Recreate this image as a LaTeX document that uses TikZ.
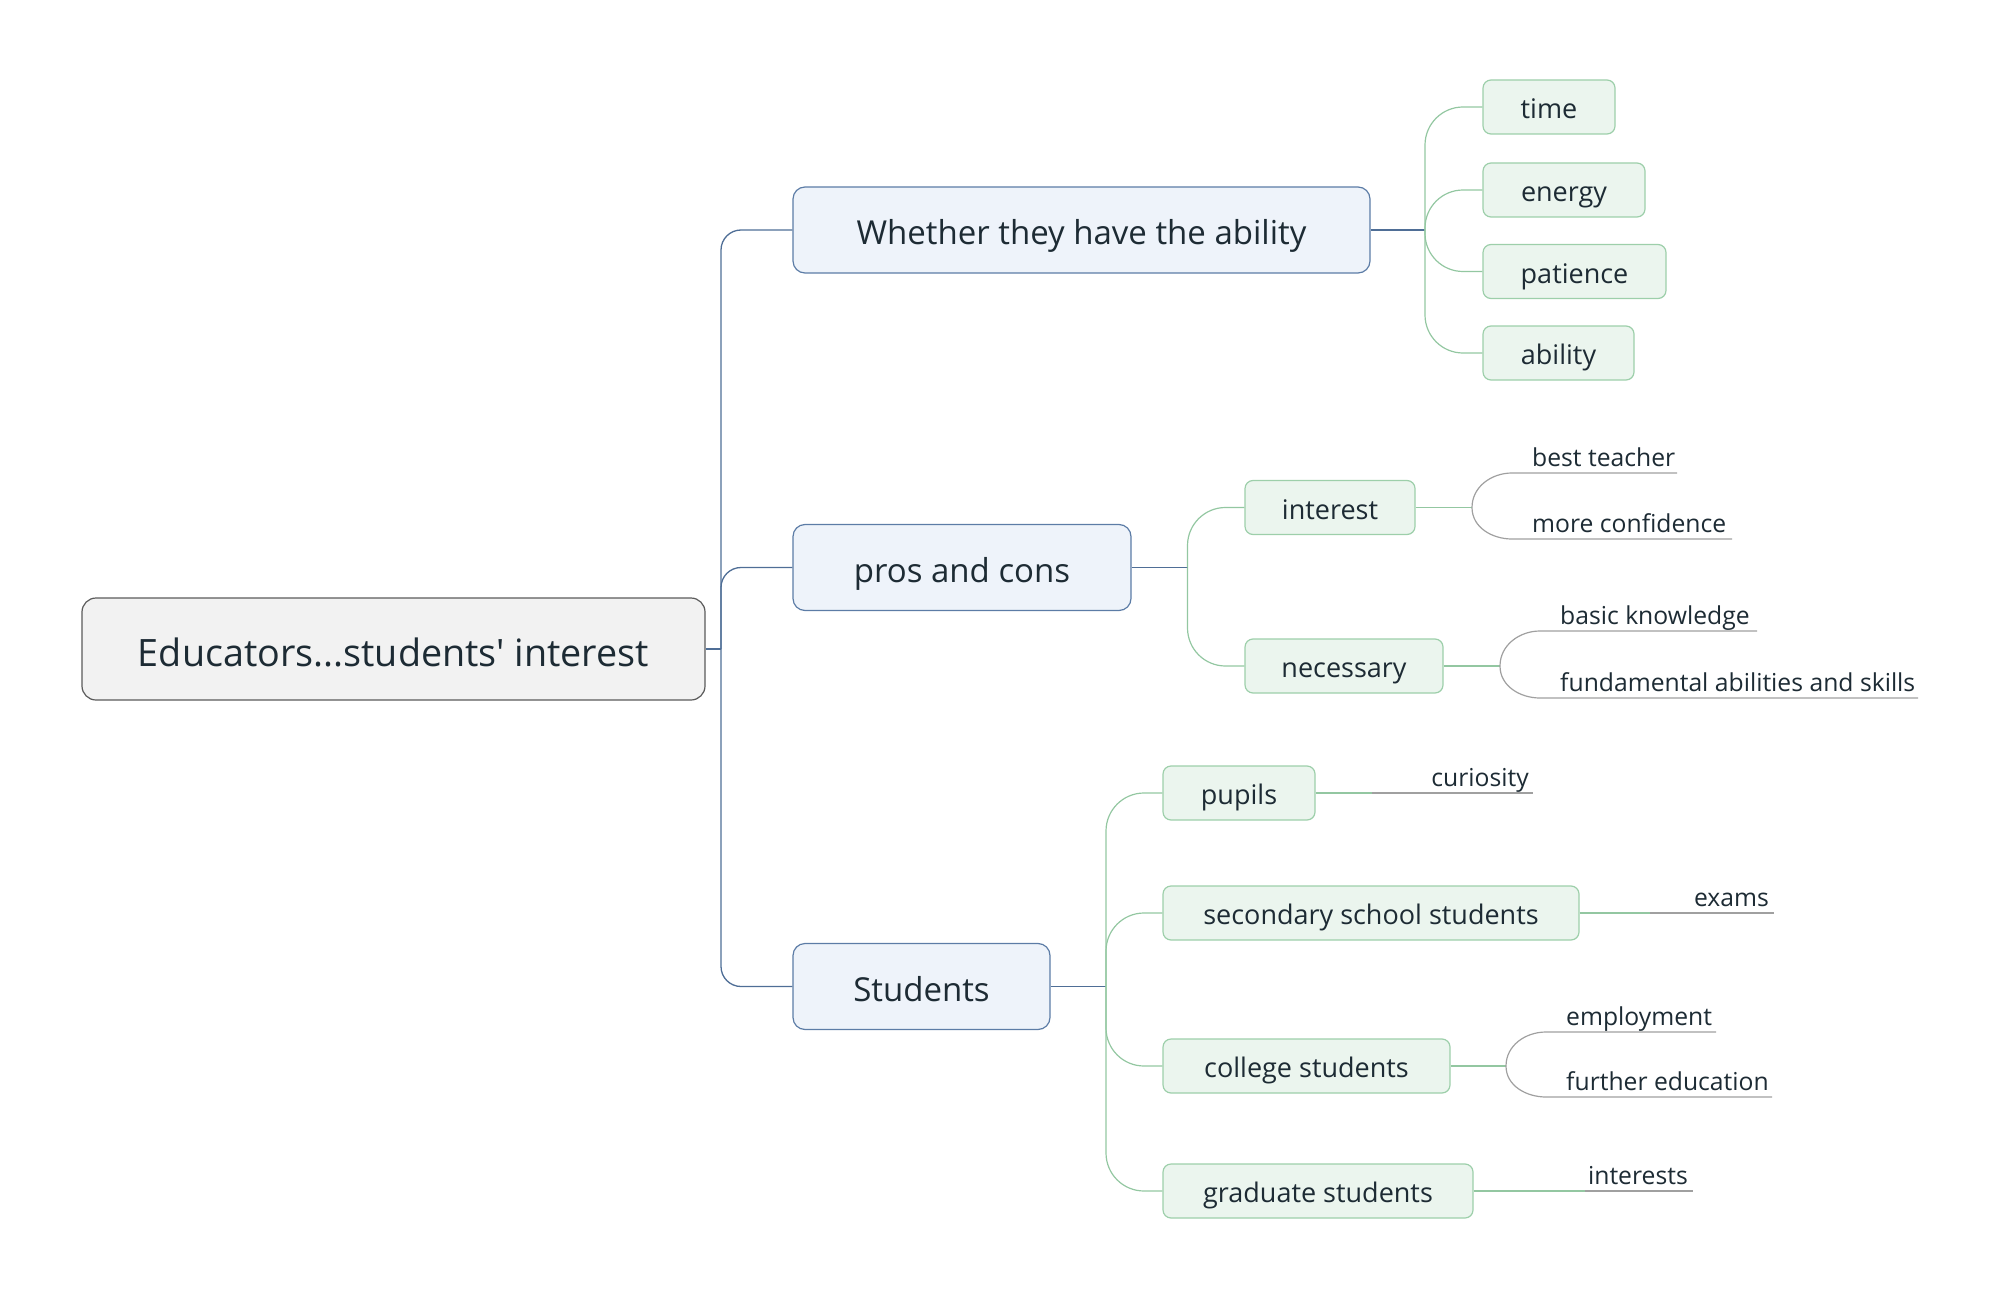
\documentclass[tikz,border=0pt]{standalone}
\usepackage{fontspec}
\setmainfont{Open Sans}
\definecolor{rootfill}{HTML}{F2F2F2}
\definecolor{rootdraw}{HTML}{5A5A5A}
\definecolor{bluefill}{HTML}{EEF3FA}
\definecolor{bluedraw}{HTML}{5C7CA6}
\definecolor{blueline}{HTML}{4F6E96}
\definecolor{greenfill}{HTML}{EBF5EE}
\definecolor{greendraw}{HTML}{9DCFAA}
\definecolor{greenline}{HTML}{93C7A1}
\definecolor{grayline}{HTML}{A0A0A0}
\definecolor{txt}{HTML}{1D2B34}
\begin{document}
\begin{tikzpicture}[x=1pt,y=-1pt,
  rootbox/.style={draw=rootdraw, fill=rootfill, rounded corners=14pt, line width=1.2pt, minimum height=102pt, text=txt, font=\fontsize{37.7}{40}\selectfont, inner sep=0pt, text height=40pt, text depth=4.8pt},
  topic/.style={draw=bluedraw, fill=bluefill, rounded corners=12pt, line width=1.2pt, minimum height=86pt, text=txt, font=\fontsize{33}{36}\selectfont, inner sep=0pt, text height=34pt, text depth=4.4pt},
  sub/.style={draw=greendraw, fill=greenfill, rounded corners=8pt, line width=1.2pt, minimum height=54pt, text=txt, font=\fontsize{27}{30}\selectfont, inner sep=0pt, text height=27pt, text depth=3.6pt},
  leaf/.style={font=\fontsize{24.7}{27}\selectfont, inner sep=0pt, text=txt},
  bl/.style={draw=blueline, line width=1.3pt},
  gl/.style={draw=greenline, line width=1.2pt},
  gy/.style={draw=grayline, line width=1.2pt}]
\useasboundingbox (0,0) rectangle (2000,1300);

% nodes
\node[rootbox, minimum width=623pt] (root) at (393.5,649) {Educators...students\textquotesingle{} interest};
\node[topic, minimum width=577pt] (wh) at (1081.5,230) {Whether they have the ability};
\node[topic, minimum width=338pt] (pc) at (962,567.5) {pros and cons};
\node[topic, minimum width=257pt] (st) at (921.5,986.5) {Students};

\node[sub, minimum width=132pt] (time) at (1549,107) {time};
\node[sub, minimum width=162pt] (energy) at (1564,190) {energy};
\node[sub, minimum width=183pt] (patience) at (1574.5,271.5) {patience};
\node[sub, minimum width=151pt] (ability) at (1558.5,353) {ability};

\node[sub, minimum width=170pt] (interest) at (1330,507.5) {interest};
\node[sub, minimum width=198pt] (necessary) at (1344,666) {necessary};

\node[sub, minimum width=152pt] (pupils) at (1239,793) {pupils};
\node[sub, minimum width=416pt] (secondary) at (1371,913) {secondary school students};
\node[sub, minimum width=287pt] (college) at (1306.5,1066) {college students};
\node[sub, minimum width=310pt] (graduate) at (1318,1191) {graduate students};

% junctions
\coordinate (rj) at (721,649);
\coordinate (wj) at (1425,230);
\coordinate (pj) at (1187.5,567.5);
\coordinate (sj) at (1106,986.5);
\coordinate (ij) at (1472,507.5);
\coordinate (nj) at (1500,666);
\coordinate (cj) at (1506,1066);

% level 1 connectors
\draw[bl] (root.east) -- (rj);
\draw[bl, rounded corners=20pt] (rj) |- (wh.west);
\draw[bl, rounded corners=20pt] (rj) |- (pc.west);
\draw[bl, rounded corners=20pt] (rj) |- (st.west);

% level 2 connectors
\draw[bl] (wh.east) -- (wj);
\draw[gl, rounded corners=38pt] (wj) |- (time.west);
\draw[gl, rounded corners=38pt] (wj) |- (energy.west);
\draw[gl, rounded corners=38pt] (wj) |- (patience.west);
\draw[gl, rounded corners=38pt] (wj) |- (ability.west);

\draw[bl] (pc.east) -- (pj);
\draw[gl, rounded corners=38pt] (pj) |- (interest.west);
\draw[gl, rounded corners=38pt] (pj) |- (necessary.west);

\draw[bl] (st.east) -- (sj);
\draw[gl, rounded corners=38pt] (sj) |- (pupils.west);
\draw[gl, rounded corners=38pt] (sj) |- (secondary.west);
\draw[gl, rounded corners=38pt] (sj) |- (college.west);
\draw[gl, rounded corners=38pt] (sj) |- (graduate.west);

% level 3: interest
\draw[gl] (interest.east) -- (ij);
\coordinate (bt1) at (1512,473); \coordinate (bt2) at (1677,473);
\coordinate (mc1) at (1512,539); \coordinate (mc2) at (1732,539);
\draw[gy] (ij) to[out=90,in=180] (bt1) -- (bt2);
\draw[gy] (ij) to[out=-90,in=180] (mc1) -- (mc2);
\node[leaf, anchor=base west] (bestteacher) at (1532,466) {best teacher};
\node[leaf, anchor=base west] (moreconf) at (1532,532) {more confidence};

% level 3: necessary
\draw[gl] (necessary.east) -- (nj);
\coordinate (bk1) at (1540,631); \coordinate (bk2) at (1757,631);
\coordinate (fa1) at (1540,698); \coordinate (fa2) at (1918,698);
\draw[gy] (nj) to[out=90,in=180] (bk1) -- (bk2);
\draw[gy] (nj) to[out=-90,in=180] (fa1) -- (fa2);
\node[leaf, anchor=base west] (basic) at (1560,624) {basic knowledge};
\node[leaf, anchor=base west] (fund) at (1560,691) {fundamental abilities and skills};

% level 3: college
\draw[gl] (college.east) -- (cj);
\coordinate (em1) at (1546,1032); \coordinate (em2) at (1716,1032);
\coordinate (fe1) at (1546,1097); \coordinate (fe2) at (1772,1097);
\draw[gy] (cj) to[out=90,in=180] (em1) -- (em2);
\draw[gy] (cj) to[out=-90,in=180] (fe1) -- (fe2);
\node[leaf, anchor=base west] (employment) at (1566,1025) {employment};
\node[leaf, anchor=base west] (further) at (1566,1090) {further education};

% single leaves
\coordinate (cu1) at (1372,793); \coordinate (cu2) at (1533,793);
\draw[gl] (pupils.east) -- (cu1);
\draw[gy] (cu1) -- (cu2);
\node[leaf, anchor=base east] (curiosity) at (1529,786) {curiosity};

\coordinate (ex1) at (1650,913); \coordinate (ex2) at (1774,913);
\draw[gl] (secondary.east) -- (ex1);
\draw[gy] (ex1) -- (ex2);
\node[leaf, anchor=base east] (exams) at (1769,906) {exams};

\coordinate (in1) at (1585,1191); \coordinate (in2) at (1693,1191);
\draw[gl] (graduate.east) -- (in1);
\draw[gy] (in1) -- (in2);
\node[leaf, anchor=base east] (interests) at (1688,1184) {interests};
\end{tikzpicture}
\end{document}
